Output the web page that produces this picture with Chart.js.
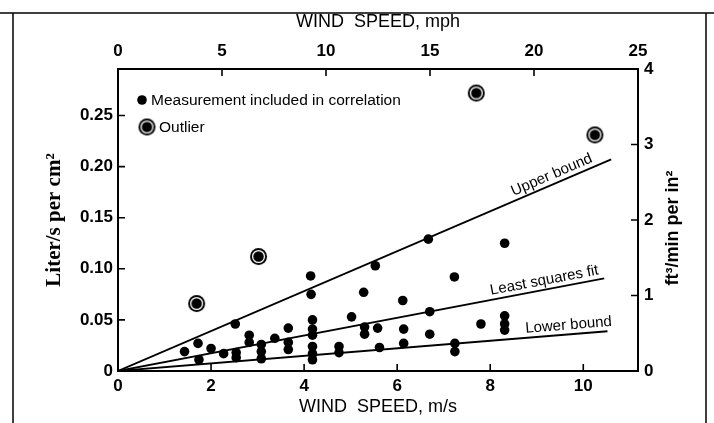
<!DOCTYPE html>
<html>
<head>
<meta charset="utf-8">
<script src="https://cdn.jsdelivr.net/npm/chart.js@4.4.0/dist/chart.umd.min.js"></script>
<style>
  html, body { margin: 0; padding: 0; background: #fff; }
  #wrap { width: 714px; height: 423px; }
</style>
</head>
<body>
<div id="wrap"><canvas id="chart" width="714" height="423"></canvas></div>
<script>
// wind speed in m/s, leakage in liter/s per cm2
const measX = [1.43, 1.72, 1.74, 2.00, 2.27, 2.52, 2.54, 2.54, 2.82, 2.82,
  3.08, 3.08, 3.08, 3.37, 3.66, 3.66, 3.66, 4.14, 4.15, 4.18,
  4.18, 4.18, 4.18, 4.18, 4.18, 4.75, 4.75, 5.02, 5.28, 5.30,
  5.30, 5.53, 5.58, 5.62, 6.12, 6.14, 6.14, 6.67, 6.70, 6.70,
  7.23, 7.24, 7.24, 7.80, 8.31, 8.31, 8.31, 8.31];
const measY = [0.019, 0.027, 0.011, 0.022, 0.017, 0.046, 0.018, 0.013, 0.035, 0.028,
  0.026, 0.019, 0.012, 0.032, 0.042, 0.028, 0.021, 0.093, 0.075, 0.050,
  0.041, 0.035, 0.024, 0.017, 0.011, 0.024, 0.018, 0.053, 0.077, 0.043,
  0.036, 0.103, 0.042, 0.023, 0.069, 0.041, 0.027, 0.129, 0.058, 0.036,
  0.092, 0.027, 0.019, 0.046, 0.125, 0.054, 0.046, 0.040];

const outlierX = [1.69, 3.02, 7.70, 10.25];
const outlierY = [0.066, 0.112, 0.272, 0.231];

// straight lines through the origin
const upperX = [0, 10.6];
const upperY = [0, 0.207];
const fitX = [0, 10.45];
const fitY = [0, 0.0906];
const lowerX = [0, 10.52];
const lowerY = [0, 0.0389];

const msTicks = [0, 2, 4, 6, 8, 10];
const mphTicks = [0, 5, 10, 15, 20, 25];
const leftTicks = [0, 0.05, 0.10, 0.15, 0.20, 0.25];
const rightTicks = [0, 1, 2, 3, 4];

const MPH_PER_MS = 2.23694;
const X_MAX = 25 / MPH_PER_MS;

const toPts = (xs, ys) => xs.map((x, i) => ({ x, y: ys[i] }));

// ringed marker used for outliers
function makeOutlierSymbol(r) {
  const c = document.createElement("canvas");
  const s = Math.ceil(r * 2 + 2);
  c.width = s;
  c.height = s;
  const g = c.getContext("2d");
  const m = s / 2;
  g.fillStyle = "#000";
  g.beginPath();
  g.arc(m, m, r, 0, Math.PI * 2);
  g.fill();
  g.strokeStyle = "#fff";
  g.lineWidth = 1.3;
  g.beginPath();
  g.arc(m, m, r - 2.6, 0, Math.PI * 2);
  g.stroke();
  return c;
}
const outlierSym = makeOutlierSymbol(8.5);

const SANS = "'Liberation Sans', Arial, sans-serif";
const tickFont = { family: SANS, size: 17, weight: "bold" };

function fixTicks(list) {
  return (s) => { s.ticks = list.map((v) => ({ value: v })); };
}

// inward tick marks, outer frame, legend, line labels and right title
const decor = {
  id: "decor",
  afterDraw(chart) {
    const ctx = chart.ctx;
    const a = chart.chartArea;
    const sc = chart.scales;
    const len = 7;
    ctx.save();
    ctx.strokeStyle = "#000";
    ctx.lineWidth = 1.6;
    ctx.beginPath();
    msTicks.forEach((v) => {
      const px = sc.x.getPixelForValue(v);
      ctx.moveTo(px, a.bottom); ctx.lineTo(px, a.bottom - len);
    });
    mphTicks.forEach((v) => {
      const px = sc.x2.getPixelForValue(v);
      ctx.moveTo(px, a.top); ctx.lineTo(px, a.top + len);
    });
    leftTicks.forEach((v) => {
      const py = sc.y.getPixelForValue(v);
      ctx.moveTo(a.left, py); ctx.lineTo(a.left + len, py);
    });
    rightTicks.forEach((v) => {
      const py = sc.y2.getPixelForValue(v);
      ctx.moveTo(a.right, py); ctx.lineTo(a.right - len, py);
    });
    ctx.stroke();

    // scanned page frame
    ctx.lineWidth = 1.5;
    ctx.beginPath();
    ctx.moveTo(0, 13); ctx.lineTo(714, 13);
    ctx.moveTo(13, 13); ctx.lineTo(13, 423);
    ctx.moveTo(706, 13); ctx.lineTo(706, 423);
    ctx.stroke();

    // legend
    ctx.fillStyle = "#000";
    ctx.beginPath();
    ctx.arc(142, 100, 4.8, 0, Math.PI * 2);
    ctx.fill();
    ctx.drawImage(outlierSym, 147 - outlierSym.width / 2, 127 - outlierSym.height / 2);
    ctx.font = "15.5px " + SANS;
    ctx.textBaseline = "middle";
    ctx.textAlign = "left";
    ctx.fillText("Measurement included in correlation", 151, 101);
    ctx.fillText("Outlier", 159, 128);

    // labels along the lines
    const lineLabel = (text, xs, ys, atX, off) => {
      const x0 = sc.x.getPixelForValue(xs[0]), y0 = sc.y.getPixelForValue(ys[0]);
      const x1 = sc.x.getPixelForValue(xs[1]), y1 = sc.y.getPixelForValue(ys[1]);
      const ang = Math.atan2(y1 - y0, x1 - x0);
      const t = (atX - xs[0]) / (xs[1] - xs[0]);
      const px = x0 + (x1 - x0) * t, py = y0 + (y1 - y0) * t;
      ctx.save();
      ctx.translate(px + Math.sin(ang) * off, py - Math.cos(ang) * off);
      ctx.rotate(ang);
      ctx.textAlign = "center";
      ctx.textBaseline = "alphabetic";
      ctx.fillText(text, 0, 0);
      ctx.restore();
    };
    ctx.font = "15px " + SANS;
    lineLabel("Upper bound", upperX, upperY, 9.4, 5);
    lineLabel("Least squares fit", fitX, fitY, 9.2, 5);
    lineLabel("Lower bound", lowerX, lowerY, 9.7, 5);

    // right axis title reads bottom to top
    ctx.save();
    ctx.translate(673, (a.top + a.bottom) / 2 + 8);
    ctx.rotate(-Math.PI / 2);
    ctx.font = "bold 18px " + SANS;
    ctx.textAlign = "center";
    ctx.textBaseline = "middle";
    ctx.fillText("ft\u00b3/min per in\u00b2", 0, 0);
    ctx.restore();
    ctx.restore();
  },
};

new Chart(document.getElementById("chart"), {
  type: "scatter",
  data: {
    datasets: [
      {
        label: "Measurement included in correlation",
        data: toPts(measX, measY),
        backgroundColor: "#000",
        borderColor: "#000",
        pointRadius: 4.8,
        pointBorderWidth: 0,
      },
      {
        label: "Outlier",
        data: toPts(outlierX, outlierY),
        pointStyle: outlierSym,
      },
      {
        label: "Upper bound",
        data: toPts(upperX, upperY),
        showLine: true,
        borderColor: "#000",
        borderWidth: 1.8,
        pointRadius: 0,
      },
      {
        label: "Least squares fit",
        data: toPts(fitX, fitY),
        showLine: true,
        borderColor: "#000",
        borderWidth: 1.8,
        pointRadius: 0,
      },
      {
        label: "Lower bound",
        data: toPts(lowerX, lowerY),
        showLine: true,
        borderColor: "#000",
        borderWidth: 1.8,
        pointRadius: 0,
      },
    ],
  },
  options: {
    responsive: false,
    animation: false,
    layout: { padding: 0 },
    plugins: { legend: { display: false }, tooltip: { enabled: false } },
    scales: {
      x: {
        type: "linear",
        position: "bottom",
        min: 0,
        max: X_MAX,
        afterBuildTicks: fixTicks(msTicks),
        afterFit: (s) => { s.height = 52; },
        grid: { display: false, drawTicks: false },
        border: { display: true, color: "#000", width: 2 },
        ticks: { color: "#000", font: tickFont, padding: 5 },
        title: {
          display: true,
          text: "WIND  SPEED, m/s",
          color: "#000",
          font: { family: SANS, size: 18 },
          padding: { top: 0, bottom: 5 },
        },
      },
      x2: {
        type: "linear",
        position: "top",
        min: 0,
        max: 25,
        afterBuildTicks: fixTicks(mphTicks),
        afterFit: (s) => { s.height = 69; },
        grid: { display: false, drawTicks: false },
        border: { display: true, color: "#000", width: 2 },
        ticks: { color: "#000", font: tickFont, padding: 7 },
        title: {
          display: true,
          text: "WIND  SPEED, mph",
          color: "#000",
          font: { family: SANS, size: 18 },
          padding: { top: 11, bottom: 0 },
        },
      },
      y: {
        type: "linear",
        position: "left",
        min: 0,
        max: 0.2955,
        afterBuildTicks: fixTicks(leftTicks),
        afterFit: (s) => { s.width = 118; },
        grid: { display: false, drawTicks: false },
        border: { display: true, color: "#000", width: 2 },
        ticks: {
          color: "#000",
          font: tickFont,
          padding: 5,
          callback: (v) => (v === 0 ? "0" : v.toFixed(2)),
        },
        title: {
          display: true,
          text: "Liter/s per cm\u00b2",
          color: "#000",
          font: { family: "'Liberation Serif', 'Times New Roman', serif", size: 21, weight: "bold" },
          padding: { top: 42, bottom: 0 },
        },
      },
      y2: {
        type: "linear",
        position: "right",
        min: 0,
        max: 4,
        afterBuildTicks: fixTicks(rightTicks),
        afterFit: (s) => { s.width = 76; },
        grid: { display: false, drawTicks: false },
        border: { display: true, color: "#000", width: 2 },
        ticks: { color: "#000", font: tickFont, padding: 6 },
      },
    },
  },
  plugins: [decor],
});
</script>
</body>
</html>
